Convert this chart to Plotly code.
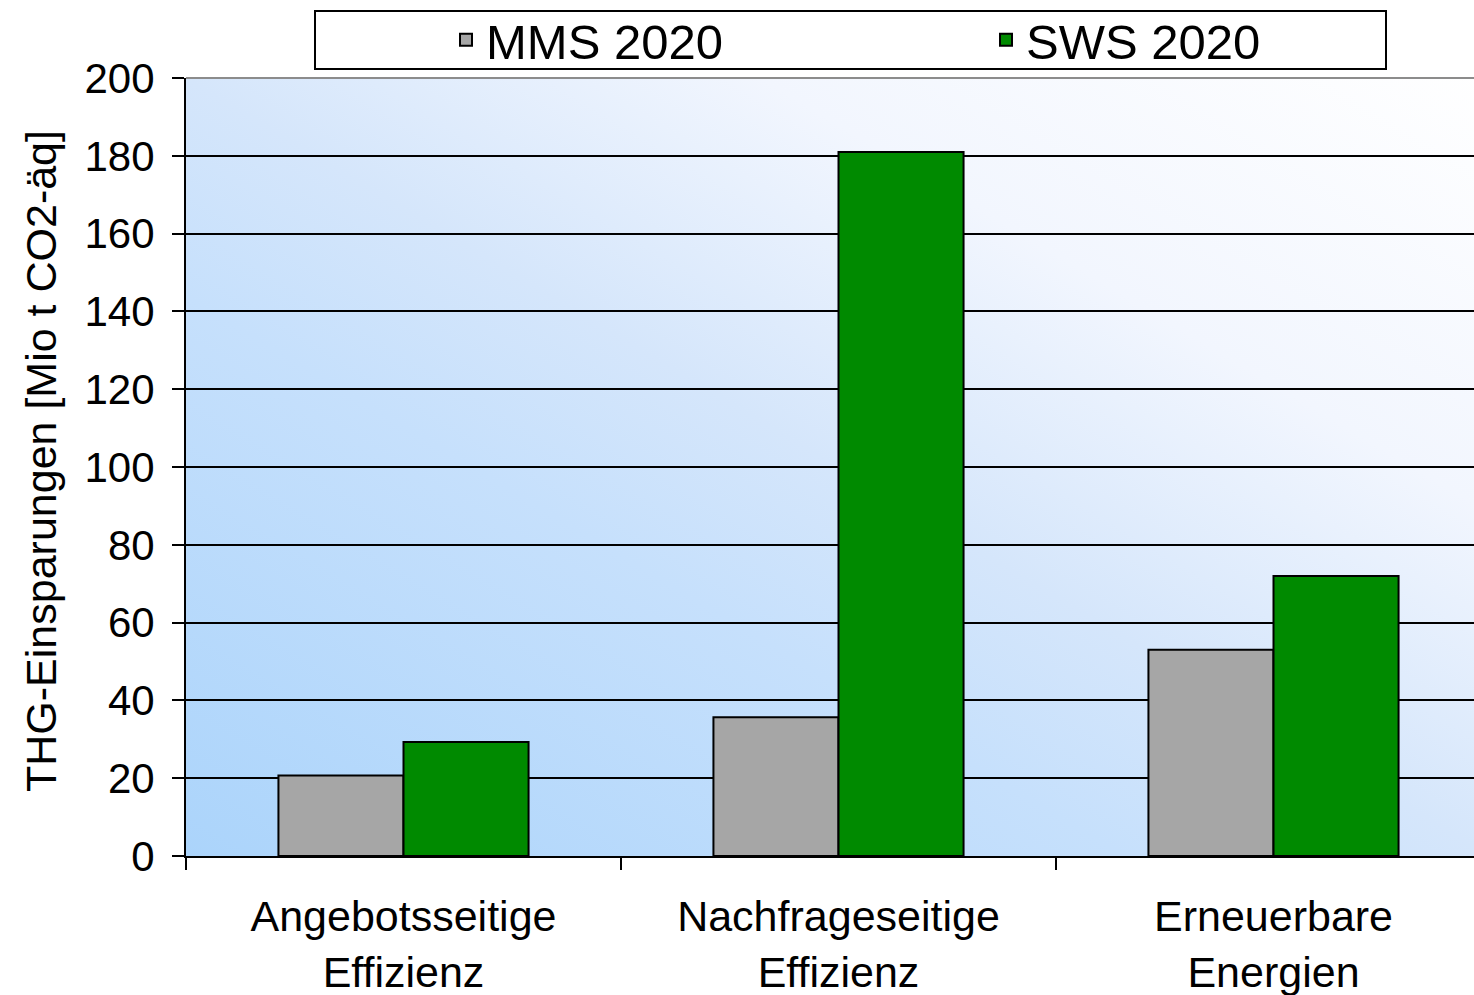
import base64
import plotly.graph_objects as go

categories = ["Angebotsseitige<br>Effizienz", "Nachfrageseitige<br>Effizienz", "Erneuerbare<br>Energien"]
series_names = ["MMS 2020", "SWS 2020"]
mms_2020 = [20.7, 35.7, 53.0]
sws_2020 = [29.3, 181.0, 72.0]
y_ticks = [0, 20, 40, 60, 80, 100, 120, 140, 160, 180, 200]
y_title = "THG-Einsparungen [Mio t CO2-äq]"

FONT = "Liberation Sans, Arial, sans-serif"
W, H = 1491, 995
L, T, B = 186, 78, 139
PW = W - L
PH = H - T - B

# gradient background for the plot area
svg = (
    '<svg xmlns="http://www.w3.org/2000/svg" width="1305" height="778" viewBox="0 0 1305 778" preserveAspectRatio="none">'
    '<defs><linearGradient id="g" x1="0" y1="1" x2="1" y2="0">'
    '<stop offset="0" stop-color="#abd4fb"/>'
    '<stop offset="0.36" stop-color="#c6e0fc"/>'
    '<stop offset="0.5" stop-color="#d5e6fb"/>'
    '<stop offset="0.72" stop-color="#f2f6fe"/>'
    '<stop offset="1" stop-color="#ffffff"/>'
    '</linearGradient></defs>'
    '<rect x="0" y="0" width="1305" height="778" fill="url(#g)"/></svg>'
)
bg_src = "data:image/svg+xml;base64," + base64.b64encode(svg.encode()).decode()

fig = go.Figure()
fig.add_trace(go.Bar(
    x=categories, y=mms_2020, name=series_names[0], legend="legend",
    marker=dict(color="#a6a6a6", line=dict(color="black", width=2)),
))
fig.add_trace(go.Bar(
    x=categories, y=sws_2020, name=series_names[1], legend="legend2",
    marker=dict(color="#008a00", line=dict(color="black", width=2)),
))

legend_common = dict(
    orientation="v", xref="container", yref="container",
    xanchor="left", y=1 - 40 / H, yanchor="middle",
    bgcolor="rgba(0,0,0,0)", borderwidth=0,
    font=dict(family=FONT, size=49, color="black"),
)

fig.update_layout(
    width=W, height=H,
    margin=dict(l=L, r=0, t=T, b=B, autoexpand=False),
    paper_bgcolor="white",
    plot_bgcolor="rgba(0,0,0,0)",
    font=dict(family=FONT, size=42, color="black"),
    barmode="group", bargap=0.425, bargroupgap=0,
    showlegend=True,
    legend=dict(x=446 / W, **legend_common),
    legend2=dict(x=986 / W, **legend_common),
    images=[dict(
        source=bg_src, xref="paper", yref="paper", x=0, y=1, sizex=1, sizey=1,
        sizing="stretch", xanchor="left", yanchor="top", layer="below",
    )],
    shapes=[
        dict(type="rect", xref="paper", yref="paper",
             x0=(315 - L) / PW, x1=(1386 - L) / PW, y0=(856 - 69) / PH, y1=(856 - 11) / PH,
             line=dict(color="black", width=2), fillcolor="white", layer="below"),
        dict(type="line", xref="paper", yref="paper", x0=0, x1=1, y0=1, y1=1,
             line=dict(color="#8c8c8c", width=2)),
    ],
    annotations=[dict(
        text=y_title, textangle=-90, showarrow=False,
        xref="paper", yref="paper", x=(41 - L) / PW, y=(856 - 461) / PH,
        xanchor="center", yanchor="middle",
        font=dict(family=FONT, size=43, color="black"),
    )],
)

fig.update_xaxes(
    type="category", showline=True, linecolor="black", linewidth=2, automargin=False,
    ticks="outside", tickson="boundaries", ticklen=12, tickwidth=2, tickcolor="black",
    ticklabelstandoff=21,
    showgrid=False, tickfont=dict(family=FONT, size=43, color="black"),
)
fig.update_yaxes(
    range=[0, 200], tickvals=y_ticks, showline=True, linecolor="black", linewidth=2,
    automargin=False, ticklabelstandoff=9,
    ticks="outside", ticklen=12, tickwidth=2, tickcolor="black",
    showgrid=True, gridcolor="black", gridwidth=2, zeroline=False,
    tickfont=dict(family=FONT, size=42, color="black"),
)

fig.write_html(
    "out.html",
    config={"displayModeBar": False},
    post_script="document.body.style.margin='0';document.body.style.overflow='hidden';",
)
